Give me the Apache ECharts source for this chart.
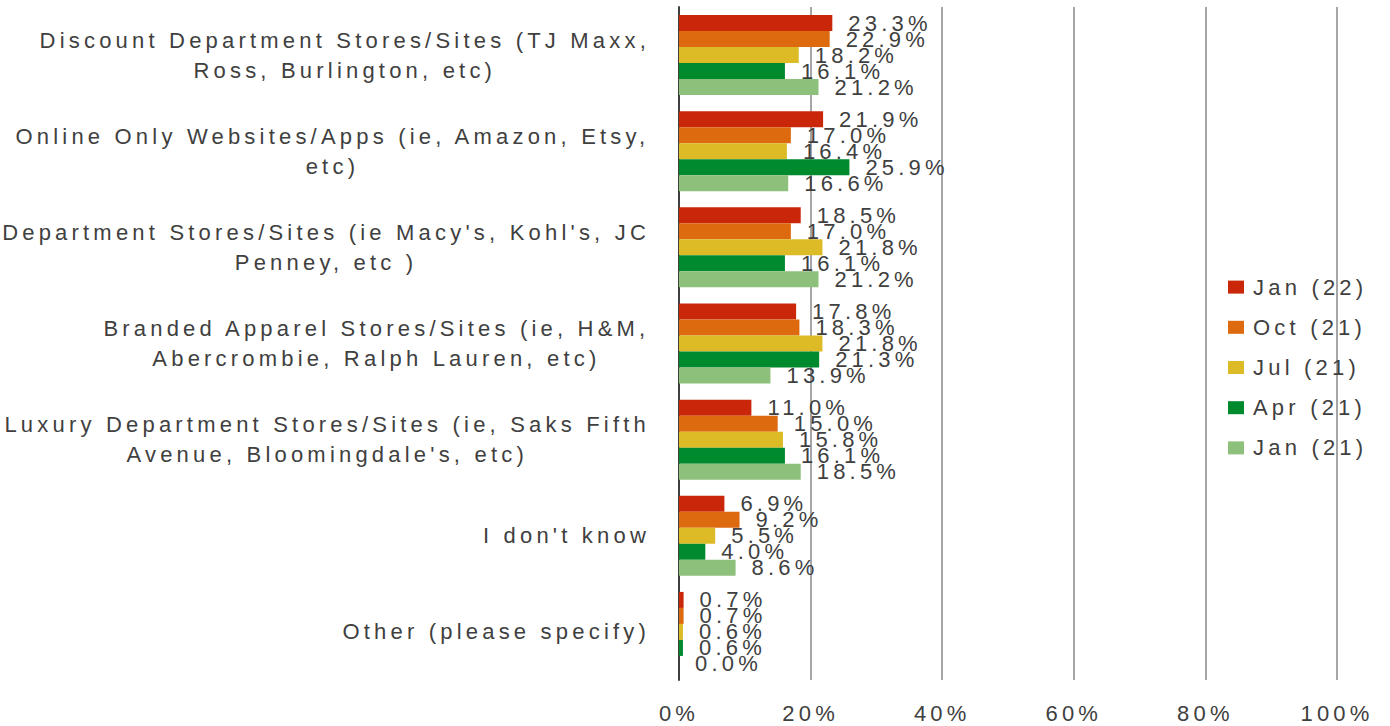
<!DOCTYPE html>
<html>
<head>
<meta charset="utf-8">
<script src="https://cdn.jsdelivr.net/npm/echarts@6/dist/echarts.min.js"></script>
<style>
  html, body { margin: 0; padding: 0; background: #fff; }
  #chart { width: 1390px; height: 726px; }
  /* the reference text is drawn wide, so space the letters out */
  #chart text { letter-spacing: 4.2px; }
</style>
</head>
<body>
<div id="chart"></div>
<script>
  // categories, top to bottom
  const categories = [
    'Discount Department Stores/Sites (TJ Maxx,\nRoss, Burlington, etc)',
    'Online Only Websites/Apps (ie, Amazon, Etsy,\netc)',
    "Department Stores/Sites (ie Macy's, Kohl's, JC\nPenney, etc )",
    'Branded Apparel Stores/Sites (ie, H&M,\nAbercrombie, Ralph Lauren, etc)',
    "Luxury Department Stores/Sites (ie, Saks Fifth\nAvenue, Bloomingdale's, etc)",
    "I don't know",
    'Other (please specify)'
  ]
  const seriesNames = ['Jan (22)', 'Oct (21)', 'Jul (21)', 'Apr (21)', 'Jan (21)']
  const jan22 = [23.3, 21.9, 18.5, 17.8, 11.0, 6.9, 0.7]
  const oct21 = [22.9, 17.0, 17.0, 18.3, 15.0, 9.2, 0.7]
  const jul21 = [18.2, 16.4, 21.8, 21.8, 15.8, 5.5, 0.6]
  const apr21 = [16.1, 25.9, 16.1, 21.3, 16.1, 4.0, 0.6]
  const jan21 = [21.2, 16.6, 21.2, 13.9, 18.5, 8.6, 0.0]
  const colors = ['#c9260a', '#de6a10', '#dcbb27', '#008a2e', '#8dc07b']

  const seriesData = [jan22, oct21, jul21, apr21, jan21]
  const font = 'Liberation Sans'
  const fontSize = 22
  const textColor = '#404040'
  const letterSpacing = 4.2

  // make text measuring agree with the css letter-spacing
  const measureCtx = document.createElement('canvas').getContext('2d')
  echarts.setPlatformAPI({
    measureText (text, textFont) {
      measureCtx.font = textFont || '12px sans-serif'
      const m = measureCtx.measureText(text)
      return {
        width: m.width + Array.from(text).length * letterSpacing,
        actualBoundingBoxAscent: m.actualBoundingBoxAscent,
        actualBoundingBoxDescent: m.actualBoundingBoxDescent,
        actualBoundingBoxLeft: m.actualBoundingBoxLeft,
        actualBoundingBoxRight: m.actualBoundingBoxRight
      }
    }
  })

  const series = seriesNames.map((name, i) => ({
    name: name,
    type: 'bar',
    data: seriesData[i],
    barWidth: 16,
    barGap: '0%',
    itemStyle: { color: colors[i] },
    label: {
      show: true,
      position: 'right',
      distance: 16,
      color: textColor,
      fontFamily: font,
      fontSize: fontSize,
      formatter: p => p.value.toFixed(1) + '%'
    }
  }))

  const options = {
    animation: false,
    grid: {
      left: 679,
      right: 53,
      top: 7,
      bottom: 46,
      outerBoundsMode: 'none'
    },
    legend: {
      orient: 'vertical',
      left: 1223,
      top: 269,
      itemWidth: 16,
      itemHeight: 13,
      itemGap: 14,
      icon: 'rect',
      data: seriesNames,
      textStyle: {
        color: textColor,
        fontFamily: font,
        fontSize: fontSize,
        padding: [0, 0, 0, 4]
      }
    },
    xAxis: {
      type: 'value',
      min: 0,
      max: 100,
      interval: 20,
      axisLine: { show: false },
      axisTick: { show: false },
      axisLabel: {
        formatter: '{value}%',
        color: textColor,
        fontFamily: font,
        fontSize: fontSize,
        margin: 20
      },
      splitLine: {
        lineStyle: { color: '#a6a6a6', width: 2 }
      }
    },
    yAxis: {
      type: 'category',
      inverse: true,
      data: categories,
      axisLine: {
        lineStyle: { color: '#404040', width: 2 }
      },
      axisTick: { show: false },
      axisLabel: {
        margin: 29,
        align: 'right',
        color: textColor,
        fontFamily: font,
        fontSize: fontSize,
        lineHeight: 30,
        formatter: v => v.split('\n').map(s => '{c|' + s + '}').join('\n'),
        rich: {
          c: {
            align: 'center',
            color: textColor,
            fontFamily: font,
            fontSize: fontSize,
            lineHeight: 30
          }
        }
      }
    },
    series: series
  }

  let chart = echarts.init(document.getElementById('chart'), null, { renderer: 'svg' })
  chart.setOption(options, true)
</script>
</body>
</html>
